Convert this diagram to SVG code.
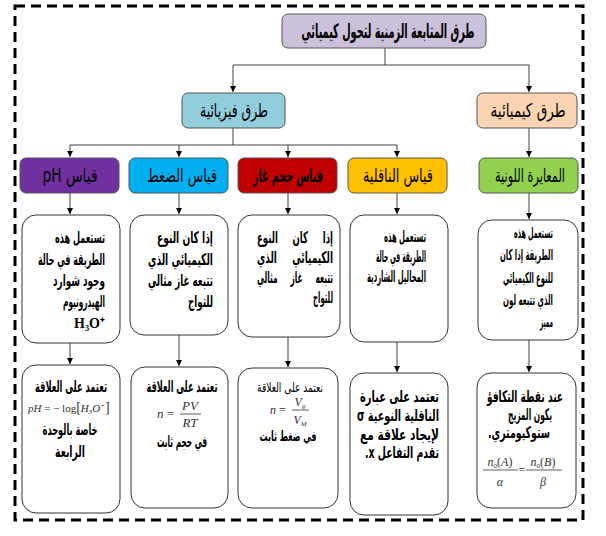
<svg xmlns="http://www.w3.org/2000/svg" width="606" height="536" viewBox="0 0 606 536">
<style>
.ar{font-family:"DejaVu Sans",sans-serif;direction:rtl;fill:#000}
.b{font-weight:bold;font-size:16px}
.s{font-weight:bold;font-size:15px}
.h{font-size:19px}
.w{word-spacing:22px}
.bx{fill:#fff;stroke:#333;stroke-width:1}
.hd{stroke:#555;stroke-width:1}
.cn{fill:none;stroke:#404040;stroke-width:1}
.m{font-family:"Liberation Serif",serif;font-style:italic;fill:#333}
</style>
<defs>
<marker id="ah" markerWidth="6" markerHeight="6" refX="6" refY="3" orient="auto" markerUnits="userSpaceOnUse"><path d="M0,0 L6,3 L0,6 z" fill="#000"/></marker>
</defs>
<rect x="15" y="6" width="568" height="514" fill="none" stroke="#000" stroke-width="3" stroke-dasharray="10 6"/>
<g id="connectors">
<path class="cn" d="M385,48 V65 M233,65 H529 M233,128 V145 M70,145 H397"/>
<path class="cn" d="M233,65 V92" marker-end="url(#ah)"/>
<path class="cn" d="M529,65 V92" marker-end="url(#ah)"/>
<path class="cn" d="M70,145 V157" marker-end="url(#ah)"/>
<path class="cn" d="M179,145 V157" marker-end="url(#ah)"/>
<path class="cn" d="M288,145 V157" marker-end="url(#ah)"/>
<path class="cn" d="M397,145 V157" marker-end="url(#ah)"/>
<path class="cn" d="M529,128 V157" marker-end="url(#ah)"/>
<path class="cn" d="M70,193 V214" marker-end="url(#ah)"/>
<path class="cn" d="M179,193 V214" marker-end="url(#ah)"/>
<path class="cn" d="M288,193 V214" marker-end="url(#ah)"/>
<path class="cn" d="M397,193 V214" marker-end="url(#ah)"/>
<path class="cn" d="M529,193 V219" marker-end="url(#ah)"/>
<path class="cn" d="M70,343 V364" marker-end="url(#ah)"/>
<path class="cn" d="M179,335 V366" marker-end="url(#ah)"/>
<path class="cn" d="M288,337 V367" marker-end="url(#ah)"/>
<path class="cn" d="M397,342 V372" marker-end="url(#ah)"/>
<path class="cn" d="M529,340 V372" marker-end="url(#ah)"/>
</g>
<g id="title">
<rect x="282" y="14" width="204" height="34" rx="6" fill="#ccc1da" class="hd"/>
<text class="ar" x="388" y="38" font-size="20" font-weight="bold" text-anchor="middle" textLength="173" lengthAdjust="spacingAndGlyphs">طرق المتابعة الزمنية لتحول كيميائي</text>
</g>
<g id="physical">
<rect x="182" y="93" width="103" height="35" rx="6" fill="#92cddc" class="hd"/>
<text class="ar h" x="234" y="117" text-anchor="middle" textLength="68" lengthAdjust="spacingAndGlyphs">طرق فيزيائية</text>
</g>
<g id="chemical">
<rect x="477" y="93" width="100" height="35" rx="6" fill="#fbd4b4" class="hd"/>
<text class="ar h" x="528" y="117" text-anchor="middle" textLength="75" lengthAdjust="spacingAndGlyphs">طرق كيميائية</text>
</g>
<g id="h-ph">
<rect x="20" y="158" width="99" height="35" rx="6" fill="#7030a0" class="hd"/>
<text class="ar h" x="70" y="182" text-anchor="middle" textLength="55" lengthAdjust="spacingAndGlyphs">قياس pH</text>
</g>
<g id="h-pressure">
<rect x="129" y="158" width="99" height="35" rx="6" fill="#00b0f0" class="hd"/>
<text class="ar h" x="182" y="182" text-anchor="middle" textLength="70" lengthAdjust="spacingAndGlyphs">قياس الضغط</text>
</g>
<g id="h-gas">
<rect x="238" y="158" width="99" height="35" rx="6" fill="#c00000" class="hd"/>
<text class="ar h" x="288" y="182" font-weight="bold" text-anchor="middle" textLength="70" lengthAdjust="spacingAndGlyphs">قياس حجم غاز</text>
</g>
<g id="h-cond">
<rect x="348" y="158" width="99" height="35" rx="6" fill="#ffc000" class="hd"/>
<text class="ar h" x="398" y="182" text-anchor="middle" textLength="70" lengthAdjust="spacingAndGlyphs">قياس الناقلية</text>
</g>
<g id="h-color">
<rect x="479" y="158" width="99" height="35" rx="6" fill="#92d050" class="hd"/>
<text class="ar h" x="530" y="182" text-anchor="middle" textLength="70" lengthAdjust="spacingAndGlyphs">المعايرة اللونية</text>
</g>
<g id="d-ph">
<rect class="bx" x="22" y="215" width="98" height="128" rx="14"/>
<text class="ar b" x="105" y="243" textLength="50" lengthAdjust="spacingAndGlyphs">تستعمل هذه</text>
<text class="ar b" x="105" y="265" textLength="67" lengthAdjust="spacingAndGlyphs">الطريقة في حالة</text>
<text class="ar b" x="105" y="286" textLength="52" lengthAdjust="spacingAndGlyphs">وجود شوارد</text>
<text class="ar b" x="105" y="307" textLength="42" lengthAdjust="spacingAndGlyphs">الهيدرونيوم</text>
<text x="105" y="328" font-family="Liberation Serif,serif" font-weight="bold" font-size="14" text-anchor="end">H₃O⁺</text>
</g>
<g id="d-pressure">
<rect class="bx" x="130" y="215" width="98" height="120" rx="14"/>
<text class="ar b" x="213" y="243" textLength="56" lengthAdjust="spacingAndGlyphs">إذا كان النوع</text>
<text class="ar b" x="213" y="265" textLength="65" lengthAdjust="spacingAndGlyphs">الكيميائي الذي</text>
<text class="ar b" x="213" y="286" textLength="65" lengthAdjust="spacingAndGlyphs">تتبعه غاز مثالي</text>
<text class="ar b" x="213" y="307" textLength="25" lengthAdjust="spacingAndGlyphs">للتواج</text>
</g>
<g id="d-gas">
<rect class="bx" x="238" y="215" width="102" height="122" rx="14"/>
<text class="ar b w" x="333" y="243" textLength="76" lengthAdjust="spacingAndGlyphs">إذا كان النوع</text>
<text class="ar b w" x="333" y="263" textLength="76" lengthAdjust="spacingAndGlyphs">الكيميائي الذي</text>
<text class="ar b w" x="333" y="283" textLength="76" lengthAdjust="spacingAndGlyphs">تتبعه غاز مثالي</text>
<text class="ar b" x="333" y="303" textLength="20" lengthAdjust="spacingAndGlyphs">للتواج</text>
</g>
<g id="d-cond">
<rect class="bx" x="350" y="215" width="98" height="127" rx="14"/>
<text class="ar b" x="426" y="242" textLength="42" lengthAdjust="spacingAndGlyphs">تستعمل هذه</text>
<text class="ar b" x="426" y="262" textLength="50" lengthAdjust="spacingAndGlyphs">الطريقة في حالة</text>
<text class="ar b" x="426" y="282" textLength="59" lengthAdjust="spacingAndGlyphs">المحاليل الشاردية</text>
</g>
<g id="d-color">
<rect class="bx" x="478" y="220" width="100" height="120" rx="14"/>
<text class="ar s" x="553" y="238" textLength="39" lengthAdjust="spacingAndGlyphs">تستعمل هذه</text>
<text class="ar s" x="553" y="260" textLength="53" lengthAdjust="spacingAndGlyphs">الطريقة إذا كان</text>
<text class="ar s" x="553" y="283" textLength="50" lengthAdjust="spacingAndGlyphs">للنوع الكيميائي</text>
<text class="ar s" x="553" y="305" textLength="50" lengthAdjust="spacingAndGlyphs">الذي تتبعه لون</text>
<text class="ar s" x="553" y="327" textLength="13" lengthAdjust="spacingAndGlyphs">مميز</text>
</g>
<g id="r-ph">
<rect class="bx" x="22" y="365" width="98" height="148" rx="14"/>
<text class="ar b" x="71" y="392" text-anchor="middle" textLength="72" lengthAdjust="spacingAndGlyphs">تعتمد على العلاقة</text>
<text class="m" x="28" y="412" font-size="11">pH <tspan font-style="normal">= − log</tspan><tspan font-style="normal" font-size="14">[</tspan>H<tspan font-size="7" dy="2">3</tspan><tspan dy="-2">O</tspan><tspan font-size="7" dy="-4">+</tspan><tspan font-style="normal" font-size="14" dy="4">]</tspan></text>
<text class="ar b" x="70" y="435" text-anchor="middle" textLength="55" lengthAdjust="spacingAndGlyphs">خاصة بالوحدة</text>
<text class="ar b" x="70" y="457" text-anchor="middle" textLength="30" lengthAdjust="spacingAndGlyphs">الرابعة</text>
</g>
<g id="r-pressure">
<rect class="bx" x="131" y="367" width="97" height="141" rx="14"/>
<text class="ar b" x="182" y="392" text-anchor="middle" textLength="71" lengthAdjust="spacingAndGlyphs">تعتمد على العلاقة</text>
<text class="m" x="157" y="418" font-size="13">n <tspan font-style="normal">=</tspan></text>
<text class="m" x="190" y="410" font-size="13" text-anchor="middle">PV</text>
<line x1="180" y1="414" x2="201" y2="414" stroke="#333" stroke-width="0.8"/>
<text class="m" x="190" y="427" font-size="13" text-anchor="middle">RT</text>
<text class="ar b" x="182" y="447" text-anchor="middle" textLength="50" lengthAdjust="spacingAndGlyphs">في حجم ثابت</text>
</g>
<g id="r-gas">
<rect class="bx" x="238" y="368" width="100" height="140" rx="14"/>
<text class="ar" x="290" y="392" font-size="13" fill="#333" text-anchor="middle" textLength="66" lengthAdjust="spacingAndGlyphs">نعتمد على العلاقة</text>
<text class="m" x="270" y="414" font-size="12">n <tspan font-style="normal">=</tspan></text>
<text class="m" x="300" y="406" font-size="12" text-anchor="middle">V<tspan font-size="7" dy="2">g</tspan></text>
<line x1="292" y1="410" x2="309" y2="410" stroke="#333" stroke-width="0.8"/>
<text class="m" x="300" y="424" font-size="12" text-anchor="middle">V<tspan font-size="7" dy="2">M</tspan></text>
<text class="ar" x="288" y="441" font-size="14" font-weight="bold" text-anchor="middle" textLength="57" lengthAdjust="spacingAndGlyphs">في ضغط ثابت</text>
</g>
<g id="r-cond">
<rect class="bx" x="350" y="373" width="98" height="142" rx="14"/>
<text class="ar b" x="439" y="402" textLength="79" lengthAdjust="spacingAndGlyphs">تعتمد على عبارة</text>
<text class="ar b" x="439" y="421" textLength="82" lengthAdjust="spacingAndGlyphs">الناقلية النوعية σ</text>
<text class="ar b" x="439" y="440" textLength="79" lengthAdjust="spacingAndGlyphs">لإيجاد علاقة مع</text>
<text class="ar b" x="439" y="458" textLength="74" lengthAdjust="spacingAndGlyphs">تقدم التفاعل x.</text>
</g>
<g id="r-color">
<rect class="bx" x="477" y="373" width="99" height="135" rx="14"/>
<text class="ar b" x="525" y="402" text-anchor="middle" textLength="76" lengthAdjust="spacingAndGlyphs">عند نقطة التكافؤ</text>
<text class="ar b" x="530" y="420" text-anchor="middle" textLength="44" lengthAdjust="spacingAndGlyphs">يكون المزيج</text>
<text class="ar b" x="519" y="438" text-anchor="middle" textLength="62" lengthAdjust="spacingAndGlyphs">ستوكيومتري.</text>
<text class="m" x="500" y="466" font-size="12" text-anchor="middle">n<tspan font-size="7" dy="2" font-style="normal">0</tspan><tspan dy="-2" font-style="normal">(</tspan>A<tspan font-style="normal">)</tspan></text>
<line x1="483" y1="470" x2="518" y2="470" stroke="#333" stroke-width="0.8"/>
<text class="m" x="500" y="486" font-size="12" text-anchor="middle">α</text>
<text x="522" y="474" font-family="Liberation Serif,serif" font-size="12" fill="#333" text-anchor="middle">=</text>
<text class="m" x="543" y="466" font-size="12" text-anchor="middle">n<tspan font-size="7" dy="2" font-style="normal">0</tspan><tspan dy="-2" font-style="normal">(</tspan>B<tspan font-style="normal">)</tspan></text>
<line x1="526" y1="470" x2="562" y2="470" stroke="#333" stroke-width="0.8"/>
<text class="m" x="543" y="486" font-size="12" text-anchor="middle">β</text>
</g>
</svg>
